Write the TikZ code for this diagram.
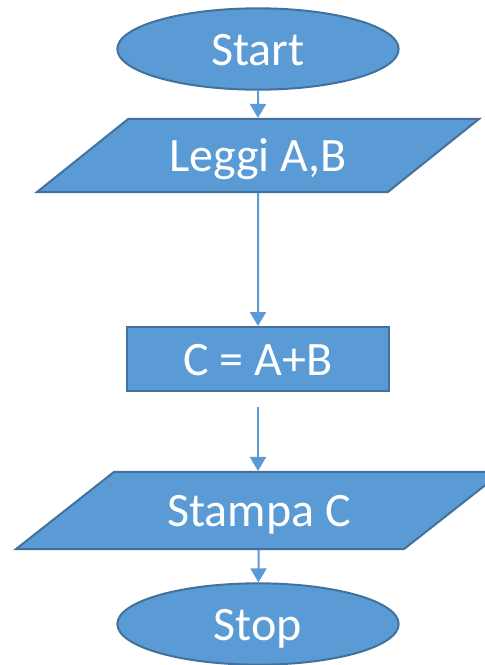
\documentclass[tikz,border=0pt]{standalone}
\usepackage{fontspec}
\setmainfont{Carlito}
\usetikzlibrary{arrows.meta, shapes.geometric}
\definecolor{boxblue}{HTML}{5B9BD5}
\definecolor{edgeblue}{HTML}{41719C}

\begin{document}
\begin{tikzpicture}[x=0.75pt, y=-0.75pt, >={Triangle[width=12pt, length=10.5pt]},
    block/.style={draw=edgeblue, line width=1.5pt, fill=boxblue, text=white,
        font=\fontsize{36}{43}\selectfont, inner sep=0pt,
        text height=29pt, text depth=5pt},
    terminal/.style={block, ellipse, minimum width=211pt, minimum height=61pt},
    io/.style={block, trapezium, trapezium stretches body=true},
    flow/.style={->, boxblue, line width=1.5pt}]

    \useasboundingbox (0,0) rectangle (485,665);

    % start / stop ellipses
    \node[terminal] (start) at (258,49) {Start};
    \node[terminal] (stop) at (258,624) {Stop};

    % input and output parallelograms (height set through inner ysep)
    \node[io, trapezium left angle=38.7, trapezium right angle=141.3,
          inner ysep=10.4pt, minimum width=331.5pt] (leggi) at (258,155.5) {Leggi A,B};
    \node[io, trapezium left angle=38.2, trapezium right angle=141.8,
          inner ysep=11.9pt, minimum width=364.5pt] (stampa) at (259,510.5) {Stampa C};

    % the sum
    \node[block, minimum width=197pt, minimum height=48pt] (somma) at (258,359) {C = A+B};

    % arrows, the one under the sum starts a bit lower
    \coordinate (gap) at (258,407);
    \draw[flow] (start) -- (leggi);
    \draw[flow] (leggi) -- (somma);
    \draw[flow] (gap) -- (gap |- stampa.north);
    \draw[flow] (stampa) -- (stop);
%
\end{tikzpicture}
\end{document}
